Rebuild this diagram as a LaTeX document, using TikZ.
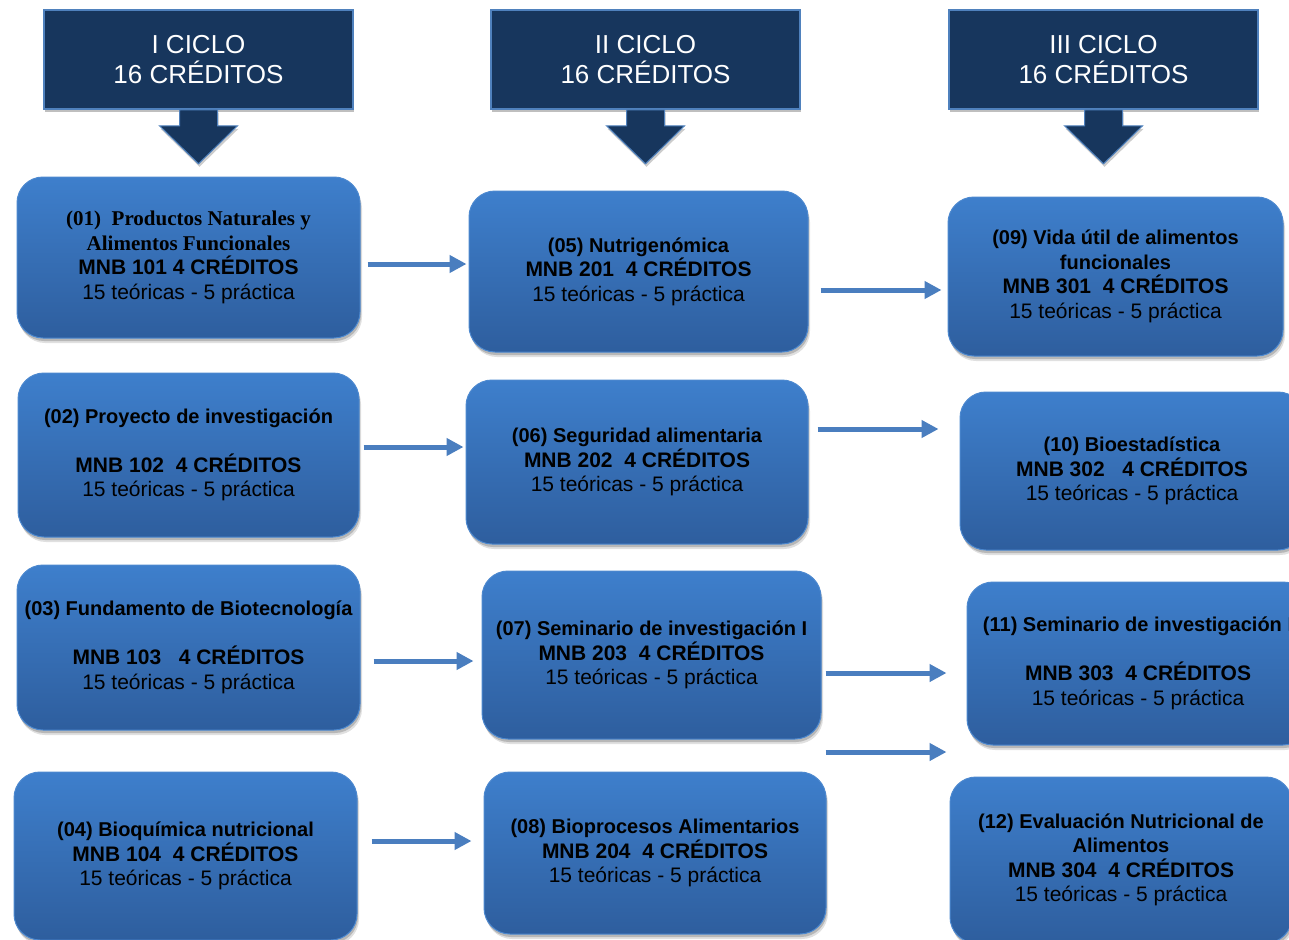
\documentclass[tikz,border=0pt]{standalone}
\usepackage{fontspec}
\setmainfont{Liberation Sans}
\newfontfamily\serifbold{Liberation Serif}
\usetikzlibrary{calc,arrows.meta,shadows}
\definecolor{navy}{HTML}{17365D}
\definecolor{navyedge}{HTML}{4F81BD}
\definecolor{boxtop}{HTML}{3E7FCC}
\definecolor{boxbot}{HTML}{2E5E9E}
\definecolor{boxedge}{HTML}{4C88CF}
\definecolor{arrowblue}{HTML}{4A7EBF}
\newcommand\coursetitle[1]{{\fontsize{20}{24.5}\selectfont\bfseries #1}}
\tikzset{
  hdr/.style={rectangle, fill=navy, draw=navyedge, line width=1.6pt,
    minimum width=309pt, minimum height=99pt, inner sep=0pt, text=white, align=center,
    font=\fontsize{26}{30}\selectfont,
    drop shadow={shadow xshift=1pt, shadow yshift=-3pt, fill=black, opacity=0.25}},
  course/.style={rectangle, rounded corners=26pt, top color=boxtop, bottom color=boxbot,
    draw=boxedge, line width=1pt, inner sep=0pt, align=center, text=black,
    font=\fontsize{21}{24.5}\selectfont,
    drop shadow={shadow xshift=2pt, shadow yshift=-5pt, fill=black, opacity=0.12},
    drop shadow={shadow xshift=1pt, shadow yshift=-3pt, fill=black, opacity=0.18}},
  blockarrow/.style={fill=navy, draw=navyedge, line width=1pt,
    drop shadow={shadow xshift=1pt, shadow yshift=-3pt, fill=black, opacity=0.2}},
  conn/.style={draw=arrowblue, line width=5pt, -{Triangle[length=17pt,width=17pt]}},
}
\begin{document}
\begin{tikzpicture}[x=1pt,y=-1pt]
\useasboundingbox (0,0) rectangle (1289,939);
\clip (0,0) rectangle (1289,939);
\fill[white] (0,0) rectangle (1289,939);

% headers
\node[hdr] (h1) at (198.5,59.5) {I CICLO\\16 CRÉDITOS};
\node[hdr] (h2) at (645.5,59.5) {II CICLO\\16 CRÉDITOS};
\node[hdr] (h3) at (1103.5,59.5) {III CICLO\\16 CRÉDITOS};

% block arrows under headers
\foreach \h in {h1,h2,h3}{
  \path[blockarrow] ($(\h.south)+(-19,0)$) -- ++(0,16) -- ++(-20,0) -- ($(\h.south)+(0,54)$)
    -- ($(\h.south)+(39,16)$) -- ++(-20,0) -- ($(\h.south)+(19,0)$) -- cycle;
}

% course boxes
\node[course, minimum width=343pt, minimum height=161pt] (b01) at (188.5,257.5)
  {{\serifbold\bfseries (01)\ \ Productos Naturales y}\\{\serifbold\bfseries Alimentos Funcionales}\\\textbf{MNB 101 4 CRÉDITOS}\\15 teóricas - 5 práctica};
\node[course, minimum width=339pt, minimum height=161pt] (b05) at (638.5,271.5)
  {\coursetitle{(05) Nutrigenómica}\\\textbf{MNB 201\ \ 4 CRÉDITOS}\\15 teóricas - 5 práctica};
\node[course, minimum width=335pt, minimum height=159pt] (b09) at (1115.5,276.5)
  {\coursetitle{(09) Vida útil de alimentos}\\\coursetitle{funcionales}\\\textbf{MNB 301\ \ 4 CRÉDITOS}\\15 teóricas - 5 práctica};

\node[course, minimum width=341pt, minimum height=164pt] (b02) at (188.5,455)
  {\coursetitle{(02) Proyecto de investigación}\\[24.5pt]\textbf{MNB 102\ \ 4 CRÉDITOS}\\15 teóricas - 5 práctica};
\node[course, minimum width=342pt, minimum height=164pt] (b06) at (637,462)
  {\coursetitle{(06) Seguridad alimentaria}\\\textbf{MNB 202\ \ 4 CRÉDITOS}\\15 teóricas - 5 práctica};
\node[course, minimum width=344pt, minimum height=158pt] (b10) at (1132,471)
  {\coursetitle{(10) Bioestadística}\\\textbf{MNB 302\ \ \ 4 CRÉDITOS}\\15 teóricas - 5 práctica};

\node[course, minimum width=343pt, minimum height=165pt] (b03) at (188.5,647.5)
  {\coursetitle{(03) Fundamento de Biotecnología}\\[24.5pt]\textbf{MNB 103\ \ \ 4 CRÉDITOS}\\15 teóricas - 5 práctica};
\node[course, minimum width=339pt, minimum height=168pt] (b07) at (651.5,655)
  {\coursetitle{(07) Seminario de investigación I}\\\textbf{MNB 203\ \ 4 CRÉDITOS}\\15 teóricas - 5 práctica};
\node[course, minimum width=342pt, minimum height=163pt] (b11) at (1138,663.5)
  {\coursetitle{(11) Seminario de investigación I}\\[24.5pt]\textbf{MNB 303\ \ 4 CRÉDITOS}\\15 teóricas - 5 práctica};

\node[course, minimum width=343pt, minimum height=168pt] (b04) at (185.5,856)
  {\coursetitle{(04) Bioquímica nutricional}\\\textbf{MNB 104\ \ 4 CRÉDITOS}\\15 teóricas - 5 práctica};
\node[course, minimum width=342pt, minimum height=162pt] (b08) at (655,853)
  {\coursetitle{(08) Bioprocesos Alimentarios}\\\textbf{MNB 204\ \ 4 CRÉDITOS}\\15 teóricas - 5 práctica};
\node[course, minimum width=342pt, minimum height=166pt] (b12) at (1121,860)
  {\coursetitle{(12) Evaluación Nutricional de}\\\coursetitle{Alimentos}\\\textbf{MNB 304\ \ 4 CRÉDITOS}\\15 teóricas - 5 práctica};

% connectors
\draw[conn] ($(b01.east)+(7,6.5)$) -- ($(b05.west)+(-2,-7.5)$);
\draw[conn] ($(b05.east)+(12,18.5)$) -- ($(b09.west)+(-6,13.5)$);
\draw[conn] ($(b02.east)+(4,-8)$) -- ($(b06.west)+(-2,-15)$);
\draw[conn] ($(b06.east)+(9,-33)$) -- ($(b10.west)+(-21,-42)$);
\draw[conn] ($(b03.east)+(13,13.5)$) -- ($(b07.west)+(-8,6)$);
\draw[conn] ($(b07.east)+(4,18)$) -- ($(b11.west)+(-20,9.5)$);
\draw[conn] ($(b07.east)+(4,97)$) -- ($(b12.west)+(-3,-108)$);
\draw[conn] ($(b04.east)+(14,-15)$) -- ($(b08.west)+(-12,-12)$);
\end{tikzpicture}
\end{document}
